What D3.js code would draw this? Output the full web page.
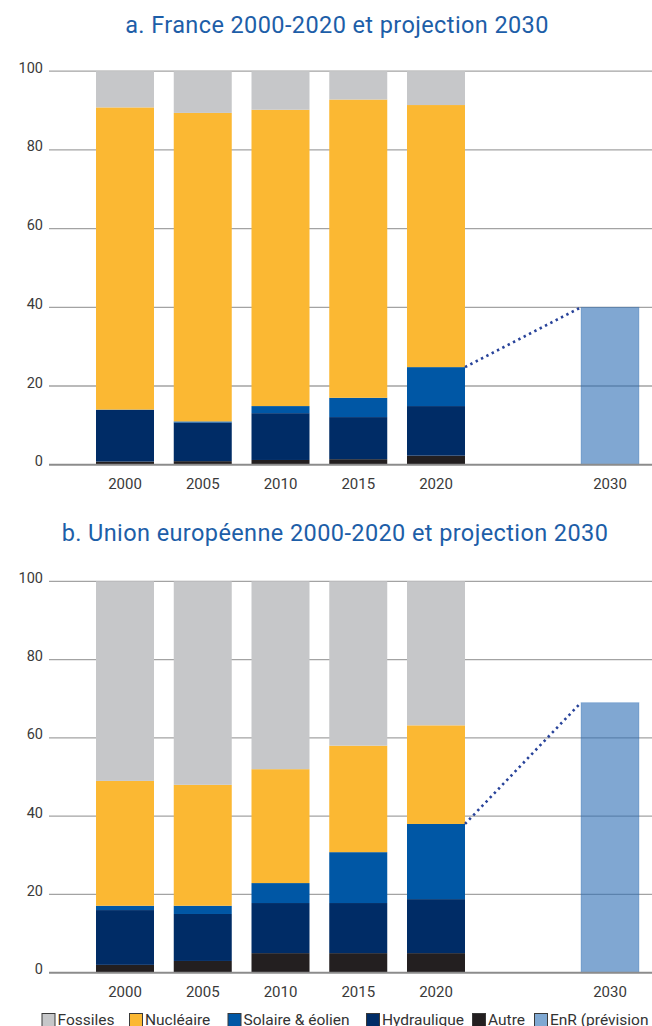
<!DOCTYPE html>
<html>
<head>
<meta charset="utf-8">
<script src="https://cdn.jsdelivr.net/npm/d3@7"></script>
<style>
  html, body { margin: 0; padding: 0; background: #fff; }
  svg { display: block; }
  text { font-family: Roboto, "Noto Sans", sans-serif; }
</style>
</head>
<body>
<svg id="chart" width="652" height="1026"></svg>
<script>
// ---------- DATA ----------
const years = ["2000", "2005", "2010", "2015", "2020"];
const projYear = ["2030"];
const seriesKeys = ["Autre", "Hydraulique", "Solaire & éolien", "Nucléaire", "Fossiles"];
const legendLabels = ["Fossiles", "Nucléaire", "Solaire & éolien", "Hydraulique", "Autre", "EnR (prévision 2030)"];
const yTicks = [0, 20, 40, 60, 80, 100];

// France (%)
const frAutre       = [0.8, 0.9, 1.2, 1.4, 2.3];
const frHydraulique = [13.1, 9.8, 11.9, 10.7, 12.6];
const frSolaire     = [0.1, 0.3, 1.8, 4.9, 9.9];
const frNucleaire   = [76.8, 78.4, 75.3, 75.8, 66.6];
const frFossiles    = [9.2, 10.6, 9.8, 7.2, 8.6];
const frProjection  = [40];

// Union européenne (%)
const euAutre       = [2.0, 3.0, 5.0, 5.0, 5.0];
const euHydraulique = [14.0, 12.0, 12.8, 12.8, 13.8];
const euSolaire     = [1.1, 2.1, 5.1, 13.0, 19.2];
const euNucleaire   = [31.9, 30.9, 29.1, 27.2, 25.2];
const euFossiles    = [51.0, 52.0, 48.0, 42.0, 36.8];
const euProjection  = [69];

const titles = ["a. France 2000-2020 et projection 2030",
                "b. Union européenne 2000-2020 et projection 2030"];

// ---------- STYLE / LAYOUT ----------
const colors = {
  "Fossiles": "#c6c7c9",
  "Nucléaire": "#fbb833",
  "Solaire & éolien": "#0057a5",
  "Hydraulique": "#002c66",
  "Autre": "#231f20",
  "EnR (prévision 2030)": "#7fa8d2"
};
const legendLeft = [41.5, 129, 227.5, 366, 472, 534];

const svg = d3.select("#chart");

function buildRows(a, h, s, n, f) {
  return years.map((y, i) => ({
    year: y,
    "Autre": a[i], "Hydraulique": h[i], "Solaire & éolien": s[i],
    "Nucléaire": n[i], "Fossiles": f[i]
  }));
}

const x = d3.scaleBand().domain(years).range([96, 465]).paddingInner(0.254).paddingOuter(0);
const xp = d3.scaleBand().domain(projYear).range([581, 639]).padding(0);

function drawPanel(cfg) {
  const g = svg.append("g");
  const y = d3.scaleLinear().domain([0, 100]).range([cfg.y0, cfg.y100]);

  // title
  g.append("text")
    .attr("x", cfg.titleX).attr("y", cfg.titleY)
    .attr("text-anchor", "middle")
    .attr("fill", "#1d5ea8")
    .attr("font-size", 23.5)
    .attr("letter-spacing", 0.4)
    .text(cfg.title);

  // gridlines
  g.append("g").selectAll("line").data(yTicks.filter(t => t > 0)).join("line")
    .attr("x1", 49).attr("x2", 652)
    .attr("y1", d => y(d)).attr("y2", d => y(d))
    .attr("stroke", "#a3a3a3").attr("stroke-width", 1.3);

  // y labels
  g.append("g").selectAll("text").data(yTicks).join("text")
    .attr("x", 43).attr("y", d => y(d) + 1.5)
    .attr("text-anchor", "end")
    .attr("fill", "#3a3a3a")
    .attr("font-size", 14.5)
    .text(d => d);

  // stacked bars
  const rows = cfg.rows;
  const stack = d3.stack().keys(seriesKeys)(rows);
  g.append("g").selectAll("g").data(stack).join("g")
    .attr("fill", d => colors[d.key])
    .selectAll("rect").data(d => d).join("rect")
    .attr("x", d => x(d.data.year))
    .attr("width", x.bandwidth())
    .attr("y", d => y(d[1]))
    .attr("height", d => y(d[0]) - y(d[1]));

  // projection bar
  g.append("g").selectAll("rect").data(cfg.proj).join("rect")
    .attr("x", xp(projYear[0]))
    .attr("width", xp.bandwidth())
    .attr("y", d => y(d))
    .attr("height", d => y(0) - y(d))
    .attr("fill", "#2b6cb4").attr("fill-opacity", 0.6)
    .attr("stroke", "#2b6cb4").attr("stroke-opacity", 0.25).attr("stroke-width", 1);

  // dotted connector
  const last = rows[rows.length - 1];
  const renewTop = last["Autre"] + last["Hydraulique"] + last["Solaire & éolien"];
  g.append("line")
    .attr("x1", x(last.year) + x.bandwidth()).attr("y1", y(renewTop))
    .attr("x2", xp(projYear[0])).attr("y2", y(cfg.proj[0]))
    .attr("stroke", "#28439a").attr("stroke-width", 2.6)
    .attr("stroke-dasharray", "2.4,3.6");

  // zero line
  g.append("line")
    .attr("x1", 49).attr("x2", 652)
    .attr("y1", y(0)).attr("y2", y(0))
    .attr("stroke", "#8c8c8c").attr("stroke-width", 2);

  // x labels
  g.append("g").selectAll("text").data(years).join("text")
    .attr("x", d => x(d) + x.bandwidth() / 2)
    .attr("y", cfg.y0 + 24.5)
    .attr("text-anchor", "middle")
    .attr("fill", "#3a3a3a")
    .attr("font-size", 15)
    .text(d => d);
  g.append("text")
    .attr("x", xp(projYear[0]) + xp.bandwidth() / 2)
    .attr("y", cfg.y0 + 24.5)
    .attr("text-anchor", "middle")
    .attr("fill", "#3a3a3a")
    .attr("font-size", 15)
    .text(projYear[0]);
}

drawPanel({
  title: titles[0], titleX: 337, titleY: 33,
  y0: 464.7, y100: 71.2,
  rows: buildRows(frAutre, frHydraulique, frSolaire, frNucleaire, frFossiles),
  proj: frProjection
});
drawPanel({
  title: titles[1], titleX: 335, titleY: 541,
  y0: 972.7, y100: 581.3,
  rows: buildRows(euAutre, euHydraulique, euSolaire, euNucleaire, euFossiles),
  proj: euProjection
});

// legend
const leg = svg.append("g");
legendLabels.forEach((lab, i) => {
  const lx = legendLeft[i];
  leg.append("rect")
    .attr("x", lx + 0.5).attr("y", 1013.5)
    .attr("width", 13).attr("height", 13)
    .attr("fill", colors[lab])
    .attr("stroke", "#3a3a3a").attr("stroke-width", 1);
  leg.append("text")
    .attr("x", lx + 16).attr("y", 1025)
    .attr("fill", "#333")
    .attr("font-size", 15.5)
    .text(lab);
});
</script>
</body>
</html>
